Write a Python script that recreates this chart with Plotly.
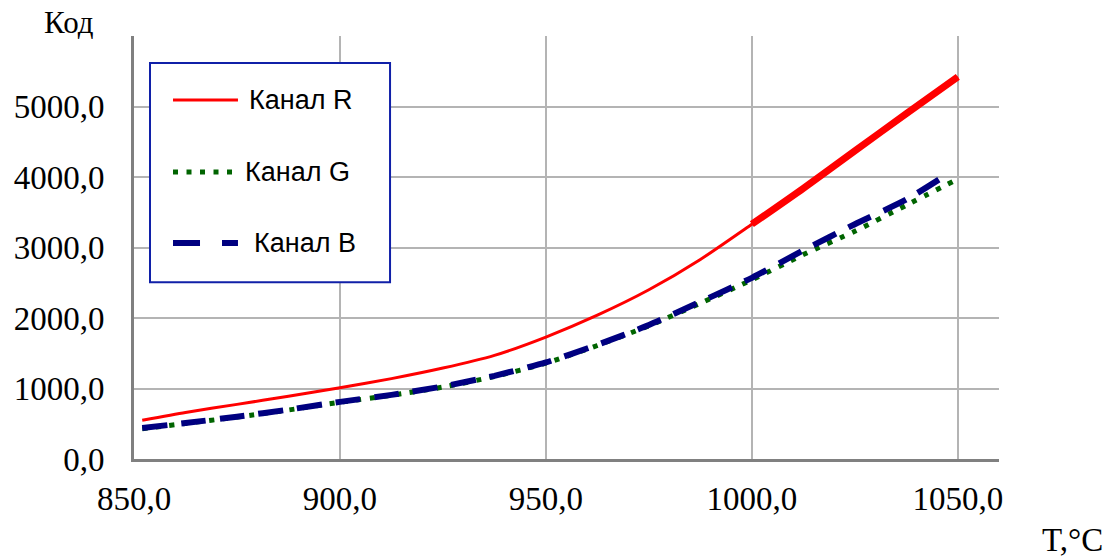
import plotly.graph_objects as go

# Temperature, °C
T = [852, 862.5, 875, 887.5, 900, 912.5, 925, 937.5, 950, 962.5, 975, 987.5,
     1000, 1012.5, 1025, 1037.5, 1050]
code_R = [550, 660, 775, 890, 1010, 1140, 1290, 1470, 1730, 2040, 2400, 2830,
          3330, 3840, 4370, 4900, 5420]
code_G = [430, 505, 595, 695, 805, 905, 1020, 1170, 1360, 1610, 1890, 2210,
          2540, 2900, 3230, 3600, 3970]
T_B = [852, 862.5, 875, 887.5, 900, 912.5, 925, 937.5, 950, 962.5, 975, 987.5,
       1000, 1012.5, 1025, 1037.5, 1048]
code_B = [440, 510, 600, 700, 810, 910, 1030, 1180, 1370, 1620, 1900, 2230,
          2570, 2960, 3330, 3680, 4060]

names = ["Канал R", "Канал G", "Канал B"]
colors = ["#ff0000", "#006400", "#000080"]
widths = [3, 5, 6]
dashes = ["solid", "5px,8.5px", "25px,14px"]
legend_dashes = ["solid", "5px,8.5px", "27px,22px"]
x_ticks = [850, 900, 950, 1000, 1050]
x_text = ["850,0", "900,0", "950,0", "1000,0", "1050,0"]
y_ticks = [0, 1000, 2000, 3000, 4000, 5000, 6000]
y_text = ["0,0", "1000,0", "2000,0", "3000,0", "4000,0", "5000,0", ""]

fig = go.Figure()
fig.add_trace(go.Scatter(x=T, y=code_R, mode="lines", name=names[0], showlegend=False,
                         line=dict(color=colors[0], width=widths[0], shape="spline", smoothing=0.6)))
# thicker final segment of the red curve
iR = T.index(1000)
fig.add_trace(go.Scatter(x=T[iR:], y=code_R[iR:], mode="lines", name=names[0], showlegend=False,
                         line=dict(color=colors[0], width=7, shape="spline", smoothing=0.6)))
fig.add_trace(go.Scatter(x=T, y=code_G, mode="lines", name=names[1], showlegend=False,
                         line=dict(color=colors[1], width=widths[1], dash=dashes[1],
                                   shape="spline", smoothing=0.6)))
fig.add_trace(go.Scatter(x=T_B, y=code_B, mode="lines", name=names[2], showlegend=False,
                         line=dict(color=colors[2], width=widths[2], dash=dashes[2],
                                   shape="spline", smoothing=0.6)))

# legend box drawn in paper coordinates
shapes = [dict(type="rect", xref="paper", yref="paper", x0=0.0185, x1=0.296, y0=0.418, y1=0.936,
               line=dict(color="#1020a8", width=2), fillcolor="white", layer="above")]
annotations = []
leg_y = [0.8487, 0.6785, 0.5106]
leg_tx = [0.1306, 0.1260, 0.1364]
for i in range(3):
    shapes.append(dict(type="line", xref="paper", yref="paper", x0=0.0451, x1=0.1202,
                       y0=leg_y[i], y1=leg_y[i], layer="above",
                       line=dict(color=colors[i], width=widths[i], dash=legend_dashes[i])))
    annotations.append(dict(text=names[i], xref="paper", yref="paper", x=leg_tx[i], y=leg_y[i],
                            xanchor="left", yanchor="middle", showarrow=False,
                            font=dict(family="Liberation Sans", size=27, color="black")))

annotations += [
    dict(text="Код", xref="paper", yref="paper", x=-0.075, y=1.0, yshift=14,
         xanchor="center", yanchor="middle", showarrow=False,
         font=dict(family="Liberation Serif", size=31)),
    dict(text="T,°C", xref="paper", yref="paper", x=1.1225, y=-0.192,
         xanchor="right", yanchor="middle", showarrow=False,
         font=dict(family="Liberation Serif", size=33)),
]

fig.update_layout(
    width=1110, height=559,
    margin=dict(l=134, r=111, t=36, b=100),
    plot_bgcolor="white", paper_bgcolor="white",
    font=dict(family="Liberation Serif", size=33, color="black"),
    showlegend=False,
    shapes=shapes,
    annotations=annotations,
    xaxis=dict(range=[850, 1060], tickvals=x_ticks, ticktext=x_text,
               showgrid=True, gridcolor="#b4b4b4", gridwidth=2,
               showline=True, linecolor="#808080", linewidth=3,
               ticks="", ticklabelstandoff=8, zeroline=False),
    yaxis=dict(range=[0, 6000], tickvals=y_ticks, ticktext=y_text,
               showgrid=True, gridcolor="#b4b4b4", gridwidth=2,
               showline=True, linecolor="#808080", linewidth=3,
               ticks="", ticklabelstandoff=20, zeroline=False),
)

fig.write_html("out.html")
